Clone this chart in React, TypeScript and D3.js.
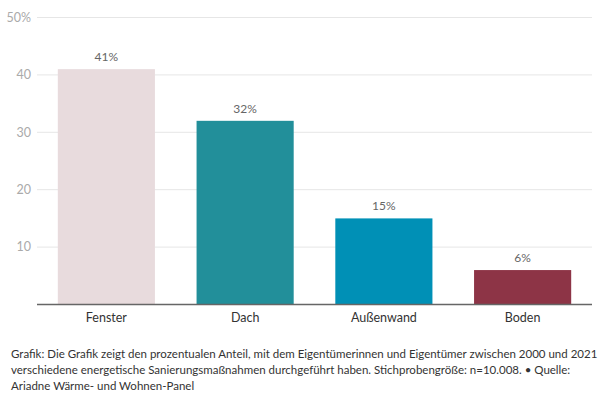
import React from 'react'
import * as d3 from 'd3'

// Sanierungsmaßnahmen (Anteil in %)
const categories = ['Fenster', 'Dach', 'Außenwand', 'Boden']
const values = [41, 32, 15, 6]
const barColors = ['#e8dbdd', '#228f9a', '#0090b6', '#8d3446']
const yTicks = [10, 20, 30, 40, 50]
const captionLines = [
    'Grafik: Die Grafik zeigt den prozentualen Anteil, mit dem Eigentümerinnen und Eigentümer zwischen 2000 und 2021',
    'verschiedene energetische Sanierungsmaßnahmen durchgeführt haben. Stichprobengröße: n=10.008.  • Quelle:',
    'Ariadne Wärme- und Wohnen-Panel',
]

const width = 601
const height = 399
const font = 'Lato, "Open Sans", sans-serif'

export default function App() {
    const x = d3.scaleBand<string>()
        .domain(categories)
        .range([37, 592])
        .paddingInner(0.3)
        .paddingOuter(0.15)

    const y = d3.scaleLinear().domain([0, 50]).range([304.5, 17.5])

    return (
        <svg width={width} height={height}
            style={{ position: 'absolute', left: 0, top: 0, background: '#fff' }}>
            {/* gridlines + y tick labels */}
            {yTicks.map(t => (
                <g key={`tick-${t}`}>
                    <line x1={37} x2={592} y1={y(t)} y2={y(t)} stroke="#e6e6e6" strokeWidth={1} />
                    <text x={31} y={y(t)} dy="0.35em" textAnchor="end"
                        fontFamily={font} fontSize={12.5} fill="#aaaaaa">
                        {t === 50 ? `${t}%` : t}
                    </text>
                </g>
            ))}

            {/* bars */}
            {categories.map((c, i) => (
                <g key={`bar-${c}`}>
                    <rect x={x(c)} y={y(values[i])} width={x.bandwidth()}
                        height={y(0) - y(values[i])} fill={barColors[i]} />
                    <text x={(x(c) as number) + x.bandwidth() / 2} y={y(values[i]) - 8}
                        textAnchor="middle" fontFamily={font} fontSize={12} fill="#666">
                        {values[i]}%
                    </text>
                    <text x={(x(c) as number) + x.bandwidth() / 2} y={322}
                        textAnchor="middle" fontFamily={font} fontSize={12.5} fill="#333">
                        {c}
                    </text>
                </g>
            ))}

            {/* baseline */}
            <line x1={37} x2={592} y1={y(0)} y2={y(0)} stroke="#666" strokeWidth={1.5} />

            {/* caption */}
            {captionLines.map((l, i) => (
                <text key={`cap-${i}`} x={11} y={358 + i * 16} fontFamily={font}
                    fontSize={11.5} fill="#333">
                    {l}
                </text>
            ))}
        </svg>
    )
}
